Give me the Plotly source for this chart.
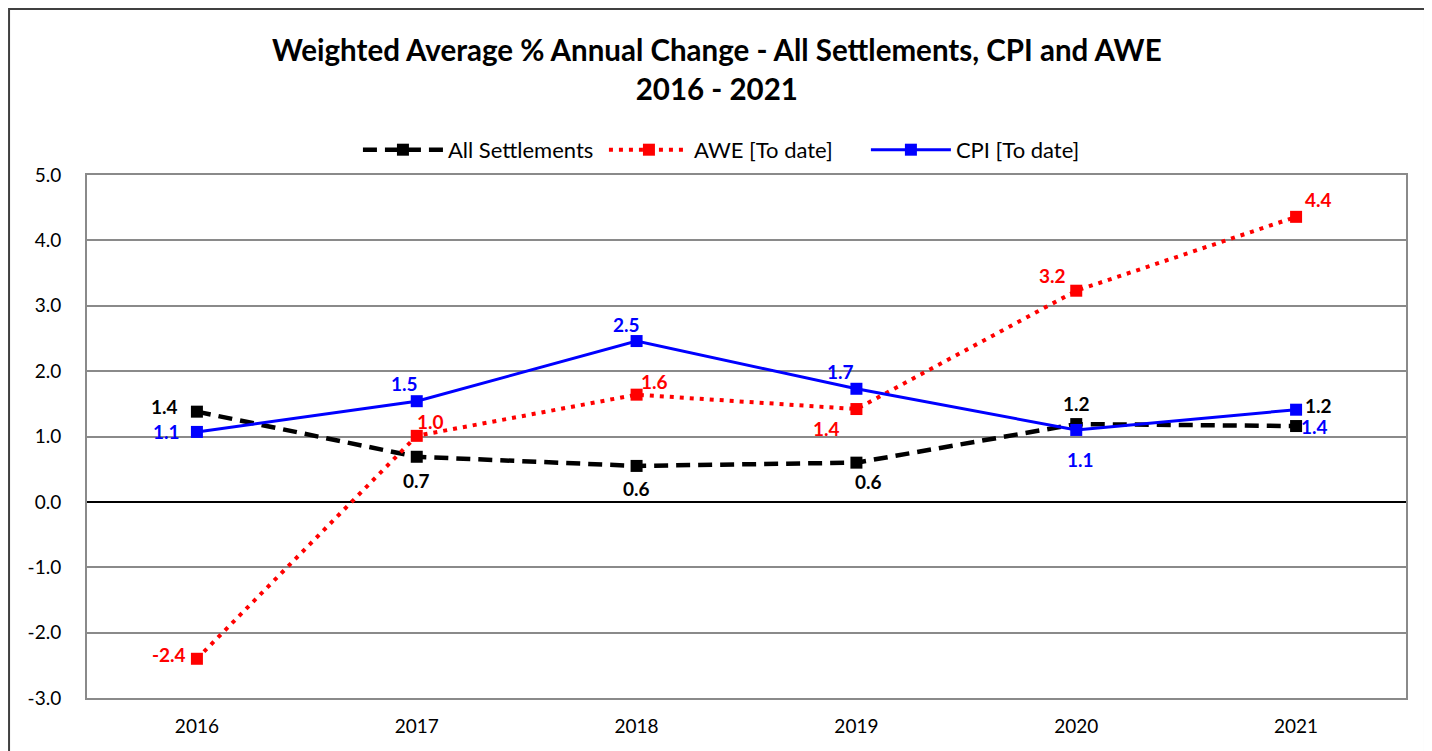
import plotly.graph_objects as go

years = ["2016", "2017", "2018", "2019", "2020", "2021"]
all_settlements = [1.38, 0.69, 0.55, 0.60, 1.19, 1.16]
awe = [-2.40, 1.01, 1.64, 1.42, 3.23, 4.36]
cpi = [1.07, 1.54, 2.46, 1.73, 1.10, 1.41]
y_ticks = [5, 4, 3, 2, 1, 0, -1, -2, -3]

# label offsets in pixels (xshift, yshift) per point
as_off = [(-32, 5), (0, -24), (0, -23), (12, -19), (0, 21), (22, 21)]
awe_off = [(-28, 4), (14, 14), (18, 13), (-30, -19), (-24, 15), (22, 17)]
cpi_off = [(-30, 0), (-12, 18), (-10, 17), (-16, 17), (4, -30), (18, -17)]

FONT = "Lato"
fig = go.Figure()
fig.add_trace(go.Scatter(x=years, y=all_settlements, name="All Settlements\u00a0", mode="lines+markers",
                         line=dict(color="black", width=4.5, dash="14px,8px"),
                         marker=dict(symbol="square", size=12, color="black")))
fig.add_trace(go.Scatter(x=years, y=awe, name="AWE [To date]\u00a0\u00a0\u00a0\u00a0\u00a0", mode="lines+markers",
                         line=dict(color="#ff0000", width=4, dash="4px,6px"),
                         marker=dict(symbol="square", size=12, color="#ff0000")))
fig.add_trace(go.Scatter(x=years, y=cpi, name="CPI [To date]", mode="lines+markers",
                         line=dict(color="#0000ff", width=3),
                         marker=dict(symbol="square", size=12, color="#0000ff")))

ann = []
for vals, offs, col in [(all_settlements, as_off, "black"), (awe, awe_off, "#ff0000"), (cpi, cpi_off, "#0000ff")]:
    for i, (v, (dx, dy)) in enumerate(zip(vals, offs)):
        ann.append(dict(x=i, y=v, xref="x", yref="y", text=f"<b>{v:.1f}</b>", showarrow=False,
                        xshift=dx, yshift=dy, font=dict(family=FONT, size=19, color=col)))

fig.update_layout(
    width=1432, height=751,
    paper_bgcolor="white", plot_bgcolor="white",
    margin=dict(l=79, r=34, t=167, b=61),
    title=dict(text="<b>Weighted Average % Annual Change - All Settlements, CPI and AWE<br>2016 - 2021</b>",
               x=0.495, xanchor="center", y=0.929, yanchor="middle", xref="container",
               font=dict(family=FONT, size=29.5, color="black")),
    legend=dict(orientation="h", x=0.481, xanchor="center", y=1.048, yanchor="middle",
                font=dict(family=FONT, size=22, color="black"), itemwidth=80,
                bgcolor="rgba(0,0,0,0)"),
    font=dict(family=FONT, color="black"),
    annotations=ann,
    shapes=[dict(type="rect", xref="paper", yref="paper", x0=-0.0591, x1=1.0144, y0=-0.2, y1=1.3174,
                 line=dict(color="#404040", width=2), layer="below")],
    xaxis=dict(type="category", range=[-0.5, 5.5], showgrid=False, showline=True, mirror=True,
               linecolor="#8a8a8a", linewidth=2, ticks="", tickfont=dict(family=FONT, size=19),
               ticklabelstandoff=10),
    yaxis=dict(range=[-3, 5], tickvals=y_ticks, ticktext=[f"{t:.1f}" for t in y_ticks],
               showgrid=True, gridcolor="#8a8a8a", gridwidth=2, showline=True, mirror=True,
               linecolor="#8a8a8a", linewidth=2, zeroline=True, zerolinecolor="black", zerolinewidth=2,
               ticks="", tickfont=dict(family=FONT, size=19), ticklabelstandoff=20),
)
fig.write_html("out.html")
